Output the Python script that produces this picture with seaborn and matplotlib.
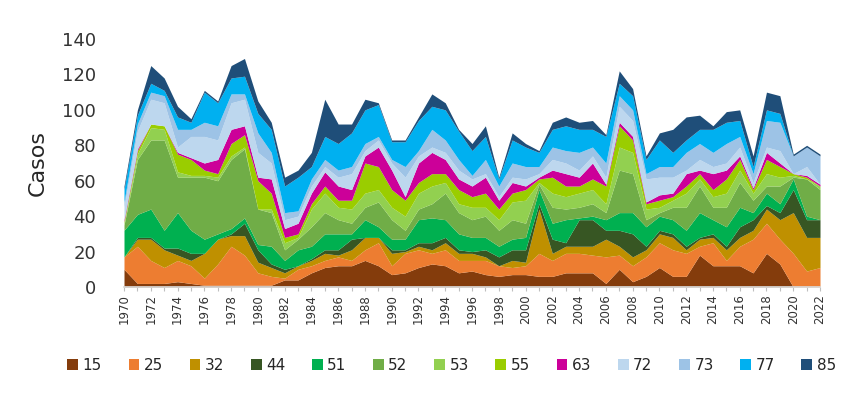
import matplotlib
matplotlib.use("Agg")
import matplotlib.pyplot as plt
import seaborn as sns
import numpy as np

years = list(range(1970, 2023))

s15 = [10,2,2,2,3,2,1,1,1,1,1,1,4,4,8,11,12,12,15,12,7,8,11,13,12,8,9,7,6,7,7,6,6,8,8,8,2,10,3,6,11,6,6,18,12,12,12,8,19,13,0,0,0]
s25 = [7,21,13,9,12,10,4,12,22,17,7,5,1,6,4,4,5,3,6,13,5,11,10,6,9,7,6,8,6,4,5,13,9,11,11,10,15,8,9,11,14,15,13,5,13,3,11,19,17,14,19,9,11]
s32 = [0,4,12,10,3,3,14,14,6,11,6,5,3,2,3,4,1,6,7,3,7,1,2,2,4,4,4,2,0,4,2,25,4,4,4,5,10,5,5,4,5,7,2,4,3,6,5,5,8,11,23,19,17]
s44 = [0,1,1,1,4,4,0,0,1,7,7,2,2,0,1,2,3,6,0,0,2,1,2,4,3,2,1,4,5,6,7,3,8,2,15,15,5,9,13,2,2,2,2,1,2,2,6,6,2,4,13,10,10]
s51 = [15,13,16,10,20,13,8,3,3,3,3,10,5,9,7,9,9,3,10,6,6,6,13,14,10,9,8,7,6,6,7,8,9,13,1,2,6,10,12,11,8,8,9,14,8,11,11,4,7,5,6,2,0]
s52 = [3,31,39,51,20,30,35,30,39,39,20,19,6,6,11,12,8,6,7,14,11,5,6,8,15,12,10,12,9,11,8,3,9,6,6,7,4,24,22,4,2,7,13,15,7,11,14,7,4,10,1,21,17]
s53 = [1,3,7,6,3,1,1,2,2,1,0,2,4,1,10,11,7,8,8,7,7,8,9,10,6,5,7,5,6,10,13,1,8,7,8,8,5,13,12,6,3,4,8,4,6,8,7,4,7,5,1,0,2]
s55 = [1,2,2,2,10,9,3,2,7,7,16,9,3,2,3,4,4,5,17,13,10,9,6,7,5,8,6,8,6,5,6,2,9,6,4,6,10,12,7,3,4,2,4,3,4,8,6,2,8,6,1,1,0]
s63 = [1,1,0,0,1,1,4,8,8,5,2,8,5,6,6,8,8,6,4,11,11,2,11,12,8,6,6,9,5,6,2,1,4,7,5,9,1,2,2,1,3,2,7,2,9,5,2,1,4,2,0,1,1]
s72 = [7,10,14,13,3,12,15,11,15,15,14,9,5,4,4,3,5,9,3,4,4,11,4,3,4,5,4,2,2,3,4,2,6,6,4,4,4,9,9,13,10,9,2,6,4,4,5,3,3,7,0,5,0]
s73 = [3,4,4,4,10,4,8,8,5,3,11,6,4,3,4,4,4,4,4,2,2,6,3,10,7,6,2,8,6,8,7,4,7,7,10,5,8,6,6,3,6,6,10,9,8,11,6,5,15,16,10,11,16]
s77 = [7,5,5,3,7,4,17,13,9,10,11,13,15,19,7,13,15,19,19,18,10,14,17,13,17,16,14,13,4,13,11,8,10,14,13,10,15,7,8,8,15,8,7,8,13,12,9,4,6,5,0,0,0]
s85 = [2,3,10,7,6,2,1,1,7,10,7,4,5,4,8,21,11,5,6,1,1,1,2,7,4,1,4,6,1,4,2,1,4,5,4,5,1,7,4,2,4,13,13,8,2,6,6,6,10,10,1,1,1]

labels = ["15","25","32","44","51","52","53","55","63","72","73","77","85"]
colors = ["#843c0c","#ed7d31","#bf9000","#375623","#00b050","#70ad47",
          "#92d050","#9acd00","#cc0099","#bdd7ee","#9dc3e6","#00b0f0","#1f4e79"]

sns.set_theme(style="white")
plt.rcParams['font.family'] = ['DejaVu Sans']

fig = plt.figure(figsize=(8.57, 3.96), dpi=100)
ax = fig.add_axes([124/857, 1-287/396, 696/857, 248/396])

series = [s15,s25,s32,s44,s51,s52,s53,s55,s63,s72,s73,s77,s85]
ax.stackplot(years, *series, labels=labels, colors=colors, linewidth=0)

ax.set_xlim(1970, 2022)
ax.set_ylim(0, 140)
ax.set_yticks(range(0, 141, 20))
ax.set_xticks(years)
ax.set_xticklabels([str(y) if y % 2 == 0 else "" for y in years], rotation=90,
                   fontsize=8.5, color="#333333")
ax.tick_params(axis="x", length=3, color="#bfbfbf", width=0.8, pad=2, bottom=True)
ax.tick_params(axis="y", length=0, labelsize=13, labelcolor="#333333", pad=20)
for s in ["top", "right", "left"]:
    ax.spines[s].set_visible(False)
ax.spines["bottom"].set_color("#d9d9d9")
ax.set_ylabel("Casos", fontsize=16, color="#262626", labelpad=10)
ax.grid(False)

handles, labs = ax.get_legend_handles_labels()
fig.legend(handles, labs, loc="center", bbox_to_anchor=(0.527, 0.078), ncol=13,
           frameon=False, fontsize=11, handlelength=0.7, handleheight=0.7,
           handletextpad=0.3, columnspacing=1.74, labelcolor="#262626")

fig.savefig("out.png", dpi=100)
